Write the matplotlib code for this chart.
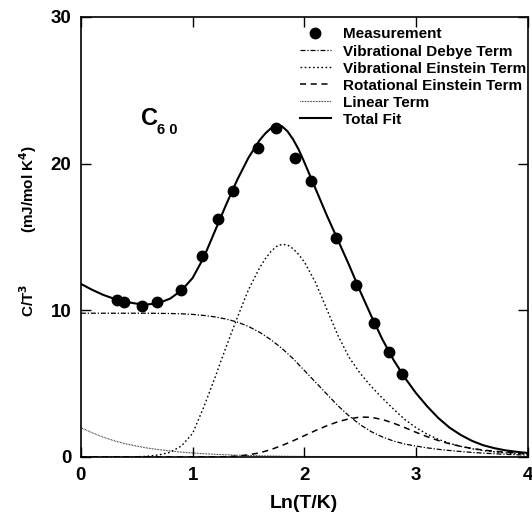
import matplotlib
matplotlib.use("Agg")
import matplotlib.pyplot as plt

plt.rcParams['font.family'] = ['Liberation Sans', 'DejaVu Sans']
plt.rcParams['font.weight'] = 'bold'
plt.rcParams['mathtext.default'] = 'bf'

# measured C/T^3 points
meas_x = [0.32, 0.39, 0.545, 0.68, 0.90, 1.08, 1.23, 1.36, 1.59, 1.75, 1.92,
          2.06, 2.28, 2.46, 2.62, 2.76, 2.87]
meas_y = [10.70, 10.55, 10.32, 10.55, 11.38, 13.72, 16.22, 18.15, 21.04, 22.40,
          20.36, 18.83, 14.93, 11.72, 9.11, 7.18, 5.66]

# curve samples, Ln(T/K) = 0.0 ... 4.0
curve_x = [0.0, 0.1, 0.2, 0.3, 0.4, 0.5, 0.6, 0.7, 0.8, 0.9,
           1.0, 1.1, 1.2, 1.3, 1.4, 1.5, 1.6, 1.7, 1.8, 1.9,
           2.0, 2.1, 2.2, 2.3, 2.4, 2.5, 2.6, 2.7, 2.8, 2.9,
           3.0, 3.1, 3.2, 3.3, 3.4, 3.5, 3.6, 3.7, 3.8, 3.9, 4.0]

# the two peaked curves get a few extra samples round their maxima
peak_x = [0.0, 0.1, 0.2, 0.3, 0.4, 0.5, 0.6, 0.7, 0.8, 0.9,
          1.0, 1.1, 1.2, 1.3, 1.4, 1.5, 1.6, 1.65, 1.7, 1.75, 1.8, 1.85, 1.9, 1.95,
          2.0, 2.1, 2.2, 2.3, 2.4, 2.5, 2.6, 2.7, 2.8, 2.9,
          3.0, 3.1, 3.2, 3.3, 3.4, 3.5, 3.6, 3.7, 3.8, 3.9, 4.0]

total_fit = [11.8, 11.4, 11.05, 10.78, 10.58, 10.45, 10.4, 10.5, 10.8, 11.35,
             12.2, 13.6, 15.4, 17.2, 18.9, 20.4, 21.6, 22.05, 22.4, 22.6, 22.55, 22.2, 21.65, 20.95,
             20.1, 18.3, 16.5, 14.8, 13.1, 11.3, 9.6, 8.0, 6.6, 5.4,
             4.35, 3.45, 2.65, 2.0, 1.5, 1.1, 0.8, 0.6, 0.45, 0.35, 0.27]

vib_einstein = [0.0, 0.0, 0.0, 0.0, 0.0, 0.01, 0.05, 0.14, 0.32, 0.75,
                1.6, 3.4, 5.4, 7.5, 9.5, 11.4, 12.9, 13.5, 14.0, 14.35, 14.5, 14.45, 14.2, 13.8,
                13.3, 11.9, 10.1, 8.3, 6.8, 5.7, 4.8, 4.0, 3.25, 2.55,
                2.0, 1.55, 1.2, 0.93, 0.72, 0.56, 0.44, 0.35, 0.28, 0.22, 0.18]

vib_debye = [9.8, 9.8, 9.8, 9.8, 9.8, 9.8, 9.8, 9.79, 9.78, 9.76,
             9.72, 9.65, 9.55, 9.4, 9.2, 8.9, 8.5, 8.0, 7.4, 6.7,
             5.9, 5.1, 4.3, 3.5, 2.8, 2.2, 1.72, 1.36, 1.08, 0.88,
             0.74, 0.62, 0.52, 0.44, 0.37, 0.31, 0.26, 0.22, 0.18, 0.15, 0.12]

rot_einstein = [0.0, 0.0, 0.0, 0.0, 0.0, 0.0, 0.0, 0.0, 0.0, 0.0,
                0.0, 0.0, 0.0, 0.02, 0.06, 0.14, 0.28, 0.5, 0.78, 1.1,
                1.45, 1.8, 2.12, 2.4, 2.6, 2.72, 2.7, 2.55, 2.3, 2.0,
                1.68, 1.38, 1.12, 0.9, 0.72, 0.58, 0.47, 0.39, 0.32, 0.27, 0.23]

linear_term = [2.0, 1.65, 1.35, 1.1, 0.9, 0.74, 0.6, 0.5, 0.41, 0.33,
               0.27, 0.22, 0.18, 0.15, 0.12, 0.1, 0.08, 0.065, 0.05, 0.04,
               0.035, 0.03, 0.025, 0.02, 0.017, 0.014, 0.012, 0.01, 0.008, 0.007,
               0.006, 0.005, 0.004, 0.003, 0.003, 0.002, 0.002, 0.002, 0.001, 0.001, 0.001]

fig = plt.figure(figsize=(5.32, 5.14), dpi=100)
ax = fig.add_axes([0.152, 0.111, 0.84, 0.856])

ax.plot(meas_x, meas_y, 'o', color='black', markersize=7.5, label='Measurement', zorder=5)
ax.plot(curve_x, vib_debye, color='black', lw=0.9, dashes=(4, 1.5, 1, 1.5),
        label='Vibrational Debye Term')
ax.plot(peak_x, vib_einstein, color='black', lw=1.0, dashes=(1.2, 1.8),
        label='Vibrational Einstein Term')
ax.plot(curve_x, rot_einstein, color='black', lw=1.1, dashes=(4, 3),
        label='Rotational Einstein Term')
ax.plot(curve_x, linear_term, color='black', lw=0.8, dashes=(0.6, 0.8),
        label='Linear Term')
ax.plot(peak_x, total_fit, color='black', lw=1.5, label='Total Fit')

ax.set_xlim(0, 4)
ax.set_ylim(0, 30)
ax.set_xticks([0, 1, 2, 3, 4])
ax.set_yticks([0, 10, 20, 30])
ax.tick_params(direction='in', top=True, right=True, length=7, width=1,
               labelsize=13.5, pad=7)
for s in ax.spines.values():
    s.set_linewidth(1.2)

ax.set_xlabel('Ln(T/K)', fontsize=14, fontweight='bold', labelpad=8)

# y label in two pieces, with the wide gap of the original
fig.text(28 / 532, 1 - 300 / 514, r'C/T$^{3}$', rotation=90, fontsize=11,
         fontweight='bold', ha='center', va='center')
fig.text(28 / 532, 1 - 189 / 514, r'(mJ/mol K$^{4}$)', rotation=90, fontsize=11,
         fontweight='bold', ha='center', va='center')

# compound label
ax.text(0.54, 22.6, 'C', fontsize=17, fontweight='bold', ha='left', va='baseline')
ax.text(0.68, 22.05, '6 0', fontsize=10.5, fontweight='bold', ha='left', va='baseline')

ax.legend(loc='upper right', bbox_to_anchor=(1.01, 0.99), frameon=False,
          prop={'size': 11, 'weight': 'bold'}, handlelength=2.0,
          handletextpad=0.8, labelspacing=0.2, borderaxespad=0.0)

plt.savefig('out.png', dpi=100)
plt.close()
